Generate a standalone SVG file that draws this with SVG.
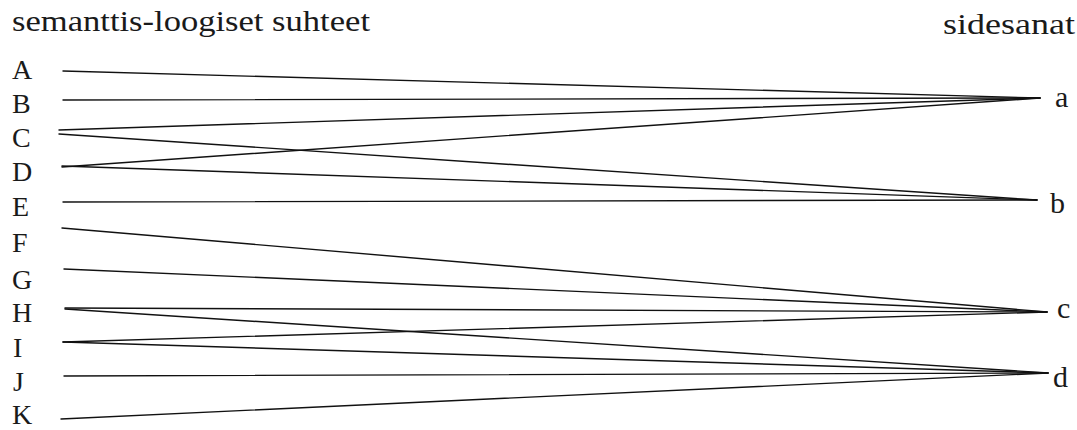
<svg xmlns="http://www.w3.org/2000/svg" width="1077" height="430" viewBox="0 0 1077 430">
<style>
.t{font-family:"Liberation Serif","Times New Roman",serif;fill:#1a1a1a}
.h{font-size:30px}
.l{font-size:28px}
.r{font-size:30px}
.c line{stroke:#111;stroke-width:1.4;stroke-linecap:round}
</style>
<rect width="1077" height="430" fill="#fff"/>
<g id="title-left"><text class="t h" x="12" y="31" textLength="358" lengthAdjust="spacingAndGlyphs">semanttis-loogiset suhteet</text></g>
<g id="title-right"><text class="t h" x="943" y="34" textLength="132" lengthAdjust="spacingAndGlyphs">sidesanat</text></g>
<g id="node-A"><text class="t l" x="12" y="79">A</text></g>
<g id="node-B"><text class="t l" x="12" y="113">B</text></g>
<g id="node-C"><text class="t l" x="12" y="147">C</text></g>
<g id="node-D"><text class="t l" x="12" y="181">D</text></g>
<g id="node-E"><text class="t l" x="12" y="216">E</text></g>
<g id="node-F"><text class="t l" x="12" y="252">F</text></g>
<g id="node-G"><text class="t l" x="12" y="289">G</text></g>
<g id="node-H"><text class="t l" x="12" y="322">H</text></g>
<g id="node-I"><text class="t l" x="13" y="357">I</text></g>
<g id="node-J"><text class="t l" x="13" y="391">J</text></g>
<g id="node-K"><text class="t l" x="12" y="424">K</text></g>
<g id="node-a"><text class="t r" x="1055" y="107">a</text></g>
<g id="node-b"><text class="t r" x="1050" y="213">b</text></g>
<g id="node-c"><text class="t r" x="1057" y="318">c</text></g>
<g id="node-d"><text class="t r" x="1053" y="387">d</text></g>
<g id="connectors" class="c">
<line x1="63" y1="71" x2="1040" y2="98"/>
<line x1="63" y1="100" x2="1040" y2="98"/>
<line x1="59" y1="130" x2="1040" y2="98"/>
<line x1="62" y1="167" x2="1040" y2="98"/>
<line x1="59" y1="134" x2="1037" y2="200"/>
<line x1="62" y1="166" x2="1037" y2="200"/>
<line x1="63" y1="202" x2="1037" y2="200"/>
<line x1="62" y1="228" x2="1047" y2="312"/>
<line x1="64" y1="269" x2="1047" y2="312"/>
<line x1="65" y1="308" x2="1047" y2="312"/>
<line x1="63" y1="342" x2="1047" y2="312"/>
<line x1="65" y1="309" x2="1048" y2="373"/>
<line x1="63" y1="342" x2="1048" y2="373"/>
<line x1="64" y1="376" x2="1048" y2="373"/>
<line x1="61" y1="419" x2="1048" y2="373"/>
</g>
</svg>
